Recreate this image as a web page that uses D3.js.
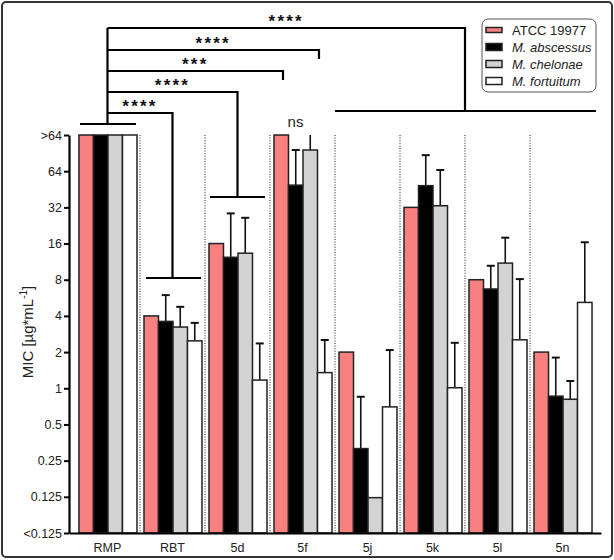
<!DOCTYPE html>
<html>
<head>
<meta charset="utf-8">
<script src="https://cdn.jsdelivr.net/npm/d3@7"></script>
<style>
  body { margin: 0; background: #fff; }
  svg { font-family: "Liberation Sans", Arial, sans-serif; }
</style>
</head>
<body>
<div id="chart"></div>
<script>
const width = 614;
const height = 560;

// categories and series
const groups = ["RMP", "RBT", "5d", "5f", "5j", "5k", "5l", "5n"];
const strains = ["ATCC 19977", "M. abscessus", "M. chelonae", "M. fortuitum"];
const colors = ["#f88080", "#000000", "#d3d3d3", "#ffffff"];

// MIC values (µg/mL); 128 stands for ">64", 0.0625 for "<0.125"
const atcc = [128, 4, 16, 128, 2, 32, 8, 2];
const abscessus = [128, 3.6, 12.3, 49, 0.315, 48.5, 6.7, 0.86];
const chelonae = [128, 3.23, 13.3, 96, 0.123, 33, 11, 0.81];
const fortuitum = [128, 2.48, 1.17, 1.35, 0.70, 1.01, 2.53, 5.18];

// top of error bars (null = none)
const atccErr = [null, null, null, null, null, null, null, null];
const abscessusErr = [null, 5.96, 28.5, 96, 0.85, 87, 10.45, 1.8];
const chelonaeErr = [null, 4.76, 26.2, 128, null, 65.5, 17.9, 1.15];
const fortuitumErr = [null, 3.5, 2.36, 2.52, 2.08, 2.39, 8.1, 16.4];

const tickValues = [0.0625, 0.125, 0.25, 0.5, 1, 2, 4, 8, 16, 32, 64, 128];
const tickLabels = ["<0.125", "0.125", "0.25", "0.5", "1", "2", "4", "8", "16", "32", "64", ">64"];

const seriesValues = [atcc, abscessus, chelonae, fortuitum];
const seriesErr = [atccErr, abscessusErr, chelonaeErr, fortuitumErr];

const svg = d3.select("#chart")
    .append("svg")
    .attr("width", width)
    .attr("height", height);

// outer frame
svg.append("rect")
    .attr("x", 2).attr("y", 2)
    .attr("width", width - 4).attr("height", height - 5)
    .attr("rx", 4)
    .attr("fill", "none")
    .attr("stroke", "#333")
    .attr("stroke-width", 2);

const x0 = d3.scaleBand()
    .domain(groups)
    .range([69, 601])
    .paddingInner(0)
    .paddingOuter(0.092);

const x1 = d3.scaleBand()
    .domain(strains)
    .range([4, x0.bandwidth() - 3]);

const y = d3.scaleLog()
    .base(2)
    .domain([0.0625, 128])
    .range([533, 135]);

// dotted separators between groups
svg.append("g")
    .selectAll("line")
    .data(groups.slice(1))
    .enter()
    .append("line")
    .attr("x1", d => x0(d)).attr("x2", d => x0(d))
    .attr("y1", y(128)).attr("y2", y(0.0625))
    .attr("stroke", "#333")
    .attr("stroke-width", 1.1)
    .attr("stroke-dasharray", "1,1.6");

// flatten data
const bars = [];
groups.forEach((g, gi) => {
    strains.forEach((s, si) => {
        bars.push({ group: g, strain: s, si: si, value: seriesValues[si][gi], err: seriesErr[si][gi] });
    });
});

// error bars (drawn first so the bar covers the base)
const errG = svg.append("g");
bars.filter(d => d.err !== null).forEach(d => {
    const cx = x0(d.group) + x1(d.strain) + x1.bandwidth() / 2;
    errG.append("line")
        .attr("x1", cx).attr("x2", cx)
        .attr("y1", y(d.value)).attr("y2", y(d.err))
        .attr("stroke", "#111").attr("stroke-width", 1.6);
    if (d.err < 128) {
        errG.append("line")
            .attr("x1", cx - 4).attr("x2", cx + 4)
            .attr("y1", y(d.err)).attr("y2", y(d.err))
            .attr("stroke", "#111").attr("stroke-width", 2);
    }
});

svg.append("g")
    .selectAll("rect")
    .data(bars)
    .enter()
    .append("rect")
    .attr("x", d => x0(d.group) + x1(d.strain))
    .attr("y", d => y(d.value))
    .attr("width", x1.bandwidth())
    .attr("height", d => y(0.0625) - y(d.value))
    .attr("fill", d => colors[d.si])
    .attr("stroke", "#222")
    .attr("stroke-width", 1.5);

// y axis
const yAxis = d3.axisLeft(y)
    .tickValues(tickValues)
    .tickFormat((d, i) => tickLabels[i])
    .tickSize(5)
    .tickSizeOuter(0)
    .tickPadding(2);

const yG = svg.append("g")
    .attr("transform", "translate(69,0)")
    .call(yAxis);
yG.select(".domain").attr("stroke-width", 2.2);
yG.selectAll(".tick line").attr("stroke-width", 2);
yG.selectAll(".tick text")
    .attr("font-family", "Liberation Sans, Arial, sans-serif")
    .attr("font-size", 12.5)
    .attr("fill", "#222");

// x axis
const xAxis = d3.axisBottom(x0).tickSize(0).tickSizeOuter(0).tickPadding(10);
const xG = svg.append("g")
    .attr("transform", `translate(0,${y(0.0625)})`)
    .call(xAxis);
xG.select(".domain").attr("stroke-width", 2.2);
xG.selectAll(".tick text")
    .attr("font-family", "Liberation Sans, Arial, sans-serif")
    .attr("font-size", 12.5)
    .attr("fill", "#222");

// y axis label
const yLabel = svg.append("text")
    .attr("transform", "translate(33,332) rotate(-90)")
    .attr("text-anchor", "middle")
    .attr("font-size", 15)
    .attr("fill", "#222");
yLabel.append("tspan").text("MIC [µg*mL");
yLabel.append("tspan").attr("font-size", 10).attr("dy", -6).text("-1");
yLabel.append("tspan").attr("dy", 6).text("]");

// significance brackets
const cRMP = x0("RMP") + x0.bandwidth() / 2;
const bracketTop = svg.append("g")
    .attr("stroke", "#000")
    .attr("stroke-width", 2.2)
    .attr("fill", "none");

// bracket over RMP
bracketTop.append("line")
    .attr("x1", x0("RMP") + 5).attr("x2", x0("RMP") + x0.bandwidth() - 4)
    .attr("y1", 124).attr("y2", 124);
bracketTop.append("line")
    .attr("x1", cRMP).attr("x2", cRMP)
    .attr("y1", 124).attr("y2", 28);

const comparisons = [
    { label: "****", level: 113, endX: x0("RBT") + x0.bandwidth() / 2, drop: 278,
      span: [x0("RBT") + 6, x0("RBT") + x0.bandwidth() - 4] },
    { label: "****", level: 92, endX: x0("5d") + x0.bandwidth() / 2, drop: 197,
      span: [x0("5d") + 5, x0("5d") + x0.bandwidth() - 5] },
    { label: "***", level: 71, endX: x0("5f") + 13, drop: 80, span: null },
    { label: "****", level: 50, endX: x0("5f") + 49, drop: 59, span: null },
    { label: "****", level: 28, endX: (x0("5j") + x0("5n") + x0.bandwidth()) / 2, drop: 111,
      span: [x0("5j"), x0("5n") + x0.bandwidth() + 1] }
];

comparisons.forEach(c => {
    bracketTop.append("path")
        .attr("d", `M${cRMP},${c.level}H${c.endX}V${c.drop}`);
    if (c.span) {
        bracketTop.append("line")
            .attr("x1", c.span[0]).attr("x2", c.span[1])
            .attr("y1", c.drop).attr("y2", c.drop);
    }
    svg.append("text")
        .attr("x", (cRMP + c.endX) / 2)
        .attr("y", c.level - 1)
        .attr("text-anchor", "middle")
        .attr("font-size", 17)
        .attr("font-weight", "bold")
        .attr("letter-spacing", 2.2)
        .attr("fill", "#111")
        .text(c.label);
});

svg.append("text")
    .attr("x", x0("5f") + x0.bandwidth() / 2 - 7)
    .attr("y", 127)
    .attr("text-anchor", "middle")
    .attr("font-size", 15)
    .attr("fill", "#222")
    .text("ns");

// legend
const legend = svg.append("g").attr("transform", "translate(482,19)");
legend.append("rect")
    .attr("width", 114).attr("height", 73)
    .attr("rx", 6)
    .attr("fill", "#fff")
    .attr("stroke", "#555")
    .attr("stroke-width", 1);

const items = legend.selectAll(".legend")
    .data(strains)
    .enter()
    .append("g")
    .attr("class", "legend")
    .attr("transform", (d, i) => `translate(0, ${11 + i * 17})`);

items.append("rect")
    .attr("x", 4)
    .attr("y", (d, i) => i === 0 ? -2.5 : -3.5)
    .attr("width", 16)
    .attr("height", (d, i) => i === 0 ? 5 : 7)
    .attr("fill", (d, i) => colors[i])
    .attr("stroke", "#222")
    .attr("stroke-width", 1.5);

items.append("text")
    .attr("x", 30)
    .attr("dy", "0.35em")
    .attr("font-size", 13)
    .attr("font-style", (d, i) => i === 0 ? "normal" : "italic")
    .attr("fill", "#222")
    .text(d => d);
</script>
</body>
</html>
